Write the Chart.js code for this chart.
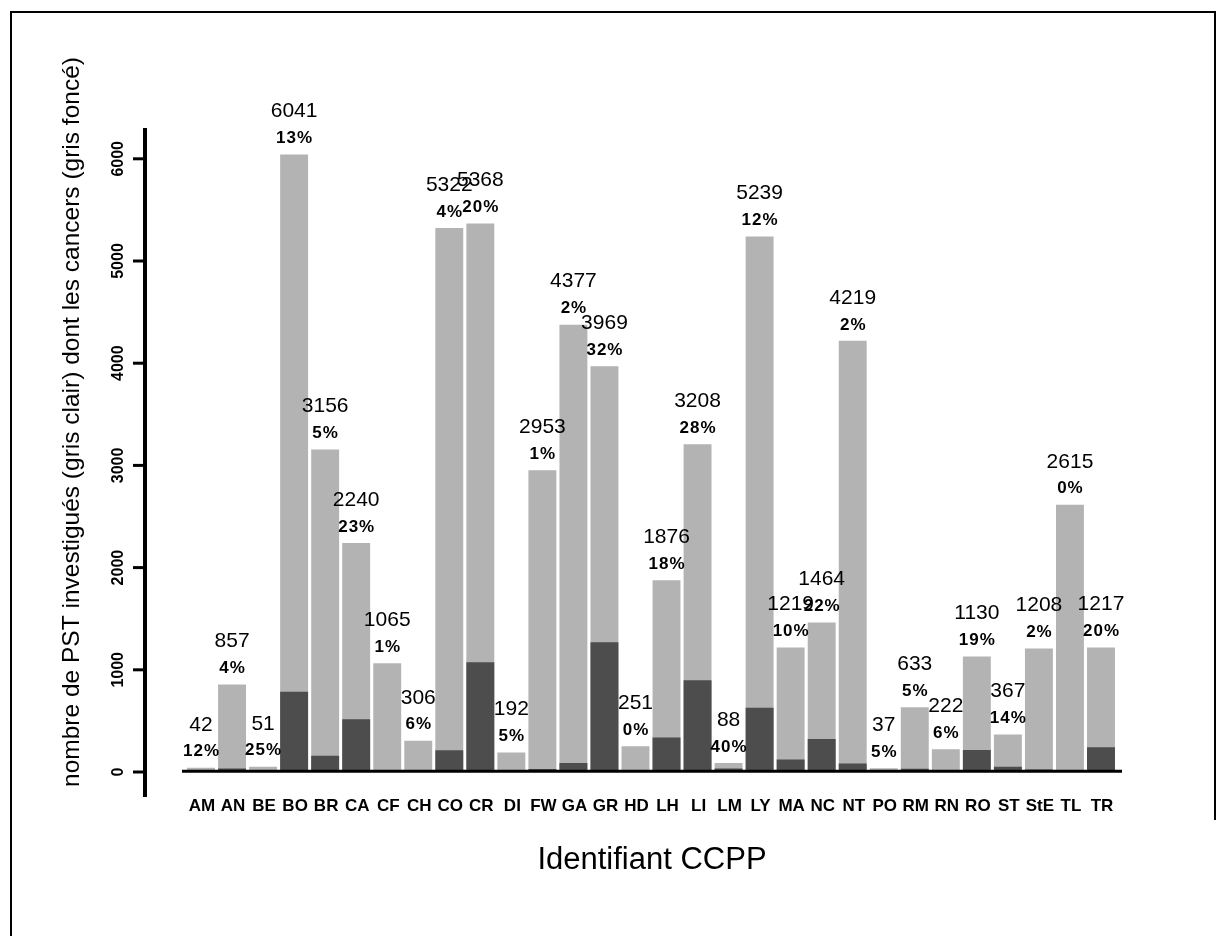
<!DOCTYPE html>
<html>
<head>
<meta charset="utf-8">
<script src="https://cdn.jsdelivr.net/npm/chart.js@4/dist/chart.umd.min.js"></script>
<style>
html,body{margin:0;padding:0;background:#fff;}
canvas{display:block;}
</style>
</head>
<body>
<canvas id="c" width="1226" height="936"></canvas>
<script>
const categories = ["AM","AN","BE","BO","BR","CA","CF","CH","CO","CR","DI","FW","GA","GR","HD","LH","LI","LM","LY","MA","NC","NT","PO","RM","RN","RO","ST","StE","TL","TR"];
const totals = [42,857,51,6041,3156,2240,1065,306,5322,5368,192,2953,4377,3969,251,1876,3208,88,5239,1219,1464,4219,37,633,222,1130,367,1208,2615,1217];
const percents = ["12%","4%","25%","13%","5%","23%","1%","6%","4%","20%","5%","1%","2%","32%","0%","18%","28%","40%","12%","10%","22%","2%","5%","5%","6%","19%","14%","2%","0%","20%"];
const cancers = [5,34,13,785,158,515,11,18,213,1074,10,30,88,1270,0,338,898,35,629,122,322,84,2,32,13,215,51,24,0,243];
const yTicks = [0,1000,2000,3000,4000,5000,6000];

const FONT = "'Liberation Sans', Arial, sans-serif";

const decor = {
  id: 'decor',
  afterDatasetsDraw(chart) {
    const ctx = chart.ctx;
    const x = chart.scales.x, y = chart.scales.y;
    ctx.save();
    // frame
    ctx.strokeStyle = '#000';
    ctx.lineWidth = 2;
    ctx.beginPath();
    ctx.moveTo(11, 936); ctx.lineTo(11, 12); ctx.lineTo(1215, 12); ctx.lineTo(1215, 820);
    ctx.stroke();

    // y axis line
    ctx.lineWidth = 4;
    ctx.beginPath();
    ctx.moveTo(145, 128); ctx.lineTo(145, 797);
    ctx.stroke();
    // y ticks
    ctx.lineWidth = 3;
    ctx.fillStyle = '#000';
    ctx.font = 'bold 16px ' + FONT;
    ctx.textAlign = 'center';
    ctx.textBaseline = 'middle';
    yTicks.forEach(v => {
      const py = y.getPixelForValue(v);
      ctx.beginPath();
      ctx.moveTo(133, py); ctx.lineTo(145, py);
      ctx.stroke();
      ctx.save();
      ctx.translate(119, py);
      ctx.rotate(-Math.PI / 2);
      ctx.fillText(String(v), 0, 0);
      ctx.restore();
    });

    // x axis line
    const y0 = y.getPixelForValue(0);
    ctx.lineWidth = 3;
    ctx.beginPath();
    ctx.moveTo(182, y0 - 0.8); ctx.lineTo(1122, y0 - 0.8);
    ctx.stroke();

    // x tick labels
    ctx.font = 'bold 17px ' + FONT;
    ctx.textBaseline = 'middle';
    categories.forEach((c, i) => {
      ctx.fillText(c, x.getPixelForValue(i) + 1, 806);
    });

    // bar labels
    const meta = chart.getDatasetMeta(1);
    meta.data.forEach((bar, i) => {
      const top = bar.y;
      ctx.font = '21px ' + FONT;
      ctx.letterSpacing = '0px';
      ctx.fillText(String(totals[i]), bar.x, top - 43);
      ctx.font = 'bold 17px ' + FONT;
      ctx.letterSpacing = '1px';
      ctx.fillText(percents[i], bar.x + 0.5, top - 16);
    });
    ctx.letterSpacing = '0px';

    // axis titles
    ctx.font = '31px ' + FONT;
    ctx.textBaseline = 'alphabetic';
    ctx.fillText('Identifiant CCPP', 652, 869);

    ctx.save();
    ctx.translate(72, 422);
    ctx.rotate(-Math.PI / 2);
    ctx.font = '24.5px ' + FONT;
    ctx.textBaseline = 'middle';
    ctx.fillText('nombre de PST investigués (gris clair) dont les cancers (gris foncé)', 0, 0);
    ctx.restore();

    ctx.restore();
  }
};

new Chart(document.getElementById('c'), {
  type: 'bar',
  data: {
    labels: categories,
    datasets: [
      { label: 'cancers', data: cancers, backgroundColor: '#4d4d4d', grouped: false, order: 0,
        barPercentage: 0.9, categoryPercentage: 1.0, borderWidth: 0 },
      { label: 'PST', data: totals, backgroundColor: '#b3b3b3', grouped: false, order: 1,
        barPercentage: 0.9, categoryPercentage: 1.0, borderWidth: 0 }
    ]
  },
  options: {
    responsive: false,
    devicePixelRatio: 1,
    animation: false,
    layout: { padding: { left: 185.5, right: 109.5, top: 107.7, bottom: 164 } },
    plugins: { legend: { display: false }, tooltip: { enabled: false }, title: { display: false } },
    scales: {
      x: { display: false, offset: true },
      y: { display: false, min: 0, max: 6500 }
    }
  },
  plugins: [decor]
});
</script>
</body>
</html>
